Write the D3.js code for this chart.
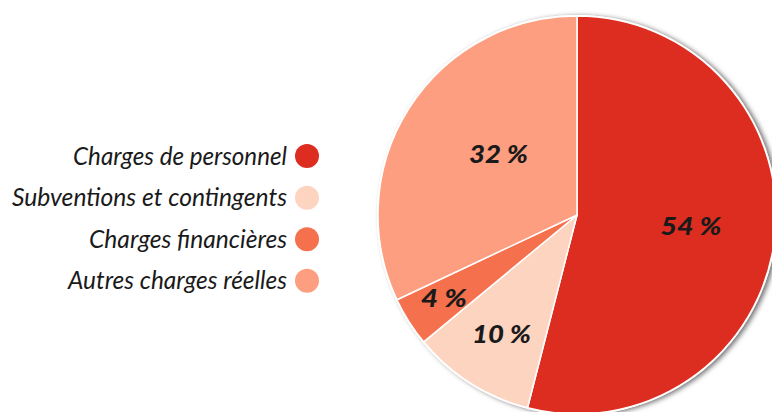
<!DOCTYPE html>
<html><head><meta charset="utf-8">
<script src="https://cdn.jsdelivr.net/npm/d3@7"></script>
<style>html,body{margin:0;padding:0;background:#fff;overflow:hidden}</style>
</head><body>
<svg id="c" width="772" height="412"></svg>
<script>
const categories = ["Charges de personnel", "Subventions et contingents", "Charges financières", "Autres charges réelles"];
const values = [54, 10, 4, 32];
const labels = ["54 %", "10 %", "4 %", "32 %"];
const colors = ["#DD2D21", "#FDD4C0", "#F5714E", "#FC9E7F"];

const svg = d3.select("#c");
const defs = svg.append("defs");
const f = defs.append("filter").attr("id","sh").attr("x","-20%").attr("y","-20%").attr("width","140%").attr("height","140%");
f.append("feDropShadow").attr("dx",3).attr("dy",1).attr("stdDeviation",2.5).attr("flood-color","#000").attr("flood-opacity",0.55);

const cx = 577, cy = 215, R = 199;
const pie = d3.pie().sort(null).value(d => d)(values);
const arc = d3.arc().innerRadius(0).outerRadius(R);
const g = svg.append("g").attr("transform", `translate(${cx},${cy})`);
g.append("circle").attr("r", R+1).attr("fill","#fff").attr("filter","url(#sh)");
g.selectAll("path.s").data(pie).join("path").attr("class","s")
  .attr("d", arc).attr("fill", (d,i) => colors[i])
  .attr("stroke","#fff").attr("stroke-width",1.5).attr("stroke-linejoin","round");

const labelPos = [[114, 20], [-75.5, 128], [-133, 92], [-78.5, -52]];
const labelW = [61, 59, 46, 59];
g.selectAll("text.l").data(pie).join("text").attr("class","l")
  .attr("x",(d,i)=>labelPos[i][0]).attr("y",(d,i)=>labelPos[i][1])
  .attr("text-anchor","middle")
  .style("font-family","Lato, 'Open Sans', sans-serif").style("font-style","italic").style("font-weight","900")
  .style("font-size","25px").attr("fill","#1a1a1a")
  .attr("textLength",(d,i)=>labelW[i]).attr("lengthAdjust","spacingAndGlyphs")
  .text((d,i)=>labels[i]);

const leg = svg.append("g");
const rows = [156, 197.7, 239.3, 280.7];
const widths = [214, 275, 198, 219];
categories.forEach((c,i)=>{
  leg.append("circle").attr("cx",307).attr("cy",rows[i]).attr("r",12).attr("fill",colors[i]);
  const t = leg.append("text").attr("x",287).attr("y",rows[i]+8.5).attr("text-anchor","end")
    .style("font-family","Lato, 'Open Sans', sans-serif").style("font-style","italic")
    .style("font-size","25px").attr("fill","#1a1a1a").text(c);
  t.attr("textLength", widths[i]).attr("lengthAdjust","spacingAndGlyphs");
});
</script>
</body></html>
